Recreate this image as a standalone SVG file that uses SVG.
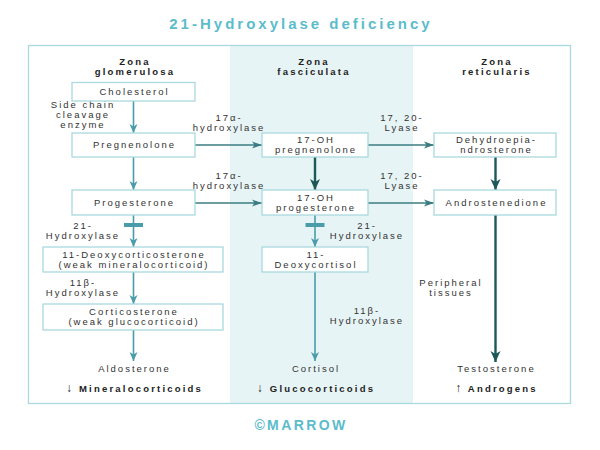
<svg xmlns="http://www.w3.org/2000/svg" width="600" height="450" viewBox="0 0 600 450">
<defs>
<style>
.t{font-family:"Liberation Sans",Arial,sans-serif;font-size:9.5px;fill:#333;letter-spacing:2px;text-anchor:middle}
.h{font-family:"Liberation Sans",Arial,sans-serif;font-size:9.5px;font-weight:bold;fill:#222;letter-spacing:2.2px;text-anchor:middle}
.ar{font-size:12px;font-weight:normal}
.box{fill:#fff;stroke:#a9d9df;stroke-width:1.3}
.a{stroke:#4b9cab;stroke-width:1.6;fill:none}
.ah{stroke:#3a7c82;stroke-width:1.6;fill:none}
.ad{stroke:#1c5856;stroke-width:2.4;fill:none}
.bar{stroke:#4b9cab;stroke-width:4}
</style>
<marker id="m1" markerUnits="userSpaceOnUse" markerWidth="10" markerHeight="10" viewBox="0 0 10 10" refX="9" refY="5" orient="auto"><path d="M0,1 L9,5 L0,9 L2.5,5 Z" fill="#4b9cab"/></marker>
<marker id="m2" markerUnits="userSpaceOnUse" markerWidth="11" markerHeight="10" viewBox="0 0 11 10" refX="10" refY="5" orient="auto"><path d="M0,1.5 L10,5 L0,8.5 L2.5,5 Z" fill="#3a7c82"/></marker>
<marker id="m3" markerUnits="userSpaceOnUse" markerWidth="12" markerHeight="12" viewBox="0 0 12 12" refX="11" refY="6" orient="auto"><path d="M0,1 L11,6 L0,11 L3,6 Z" fill="#1c5856"/></marker>
</defs>
<rect width="600" height="450" fill="#fff"/>
<text x="301" y="29" style="font-family:'Liberation Sans',Arial,sans-serif;font-size:15px;font-weight:bold;fill:#5bbccc;letter-spacing:3px;text-anchor:middle">21-Hydroxylase deficiency</text>
<rect x="230" y="45" width="183" height="359" fill="#e7f4f5"/>
<rect x="28.5" y="45.5" width="542" height="358" fill="none" stroke="#a9d9df" stroke-width="1.3"/>
<g id="headers">
<text class="h" x="135" y="64.5">Zona</text><text class="h" x="135" y="75">glomerulosa</text>
<text class="h" x="314" y="64.5">Zona</text><text class="h" x="314" y="75">fasciculata</text>
<text class="h" x="497" y="64.5">Zona</text><text class="h" x="497" y="75">reticularis</text>
</g>
<g id="connectors">
<line class="a" x1="133.5" y1="101" x2="133.5" y2="133" marker-end="url(#m1)"/>
<line class="a" x1="133.5" y1="157" x2="133.5" y2="190" marker-end="url(#m1)"/>
<line class="a" x1="133.5" y1="215" x2="133.5" y2="247" marker-end="url(#m1)"/>
<line class="bar" x1="124" y1="225" x2="143" y2="225"/>
<line class="a" x1="133.5" y1="272" x2="133.5" y2="304" marker-end="url(#m1)"/>
<line class="a" x1="133.5" y1="330" x2="133.5" y2="361" marker-end="url(#m1)"/>
<line class="ah" x1="195" y1="145" x2="262" y2="145" marker-end="url(#m2)"/>
<line class="ah" x1="195" y1="203" x2="262" y2="203" marker-end="url(#m2)"/>
<line class="ah" x1="368" y1="145" x2="434" y2="145" marker-end="url(#m2)"/>
<line class="ah" x1="368" y1="203" x2="434" y2="203" marker-end="url(#m2)"/>
<line class="ad" x1="315" y1="157" x2="315" y2="190" marker-end="url(#m3)"/>
<line class="a" x1="315" y1="215" x2="315" y2="247" marker-end="url(#m1)"/>
<line class="bar" x1="305.5" y1="225" x2="324.5" y2="225"/>
<line class="a" x1="315" y1="272" x2="315" y2="361" marker-end="url(#m1)"/>
<line class="ad" x1="495.5" y1="157" x2="495.5" y2="190" marker-end="url(#m3)"/>
<line class="ad" x1="495.5" y1="215" x2="495.5" y2="362" marker-end="url(#m3)"/>
</g>
<g id="enzymes">
<text class="t" x="83" y="108">Side chain</text><text class="t" x="83" y="118">cleavage</text><text class="t" x="83" y="128">enzyme</text>
<text class="t" x="229" y="121">17α-</text><text class="t" x="229" y="131">hydroxylase</text>
<text class="t" x="229" y="179">17α-</text><text class="t" x="229" y="189">hydroxylase</text>
<text class="t" x="402" y="121">17, 20-</text><text class="t" x="402" y="131">Lyase</text>
<text class="t" x="402" y="179">17, 20-</text><text class="t" x="402" y="189">Lyase</text>
<text class="t" x="83" y="228.5">21-</text><text class="t" x="83" y="238.5">Hydroxylase</text>
<text class="t" x="367" y="228.5">21-</text><text class="t" x="367" y="238.5">Hydroxylase</text>
<text class="t" x="83" y="285.5">11β-</text><text class="t" x="83" y="295.5">Hydroxylase</text>
<text class="t" x="367" y="314">11β-</text><text class="t" x="367" y="324">Hydroxylase</text>
<text class="t" x="451" y="285.5">Peripheral</text><text class="t" x="451" y="295.5">tissues</text>
</g>
<g id="cholesterol"><rect class="box" x="72" y="82.5" width="123" height="18.5"/><text class="t" x="134.5" y="95">Cholesterol</text></g>
<g id="pregnenolone"><rect class="box" x="72" y="133" width="123" height="24"/><text class="t" x="134.5" y="148.3">Pregnenolone</text></g>
<g id="progesterone"><rect class="box" x="72" y="190" width="123" height="25"/><text class="t" x="134.5" y="205.8">Progesterone</text></g>
<g id="deoxycorticosterone"><rect class="box" x="43" y="247" width="180" height="25"/><text class="t" x="134" y="257.8">11-Deoxycorticosterone</text><text class="t" x="134" y="267.8">(weak mineralocorticoid)</text></g>
<g id="corticosterone"><rect class="box" x="43" y="304" width="180" height="26"/><text class="t" x="134" y="315.3">Corticosterone</text><text class="t" x="134" y="325.3">(weak glucocorticoid)</text></g>
<g id="aldosterone"><text class="t" x="134.5" y="372">Aldosterone</text><text class="h" x="134.5" y="392"><tspan class="ar">↓</tspan> Mineralocorticoids</text></g>
<g id="ohpreg"><rect class="box" x="262" y="133" width="106" height="24"/><text class="t" x="316" y="143.3">17-OH</text><text class="t" x="316" y="153.3">pregnenolone</text></g>
<g id="ohprog"><rect class="box" x="262" y="190" width="106" height="25"/><text class="t" x="316" y="200.8">17-OH</text><text class="t" x="316" y="210.8">progesterone</text></g>
<g id="deoxycortisol"><rect class="box" x="262" y="247" width="106" height="25"/><text class="t" x="316" y="257.8">11-</text><text class="t" x="316" y="267.8">Deoxycortisol</text></g>
<g id="cortisol"><text class="t" x="316" y="372">Cortisol</text><text class="h" x="316" y="392"><tspan class="ar">↓</tspan> Glucocorticoids</text></g>
<g id="dhea"><rect class="box" x="434" y="133" width="122" height="24"/><text class="t" x="496.5" y="143.3">Dehydroepia-</text><text class="t" x="496.5" y="153.3">ndrosterone</text></g>
<g id="androstenedione"><rect class="box" x="434" y="190" width="122" height="25"/><text class="t" x="496.5" y="205.8">Androstenedione</text></g>
<g id="testosterone"><text class="t" x="496.5" y="372">Testosterone</text><text class="h" x="496.5" y="392"><tspan class="ar">↑</tspan> Androgens</text></g>
<text x="301" y="430" style="font-family:'Liberation Sans',Arial,sans-serif;font-size:14px;font-weight:bold;fill:#5bbccc;letter-spacing:2.4px;text-anchor:middle">©MARROW</text>
</svg>
